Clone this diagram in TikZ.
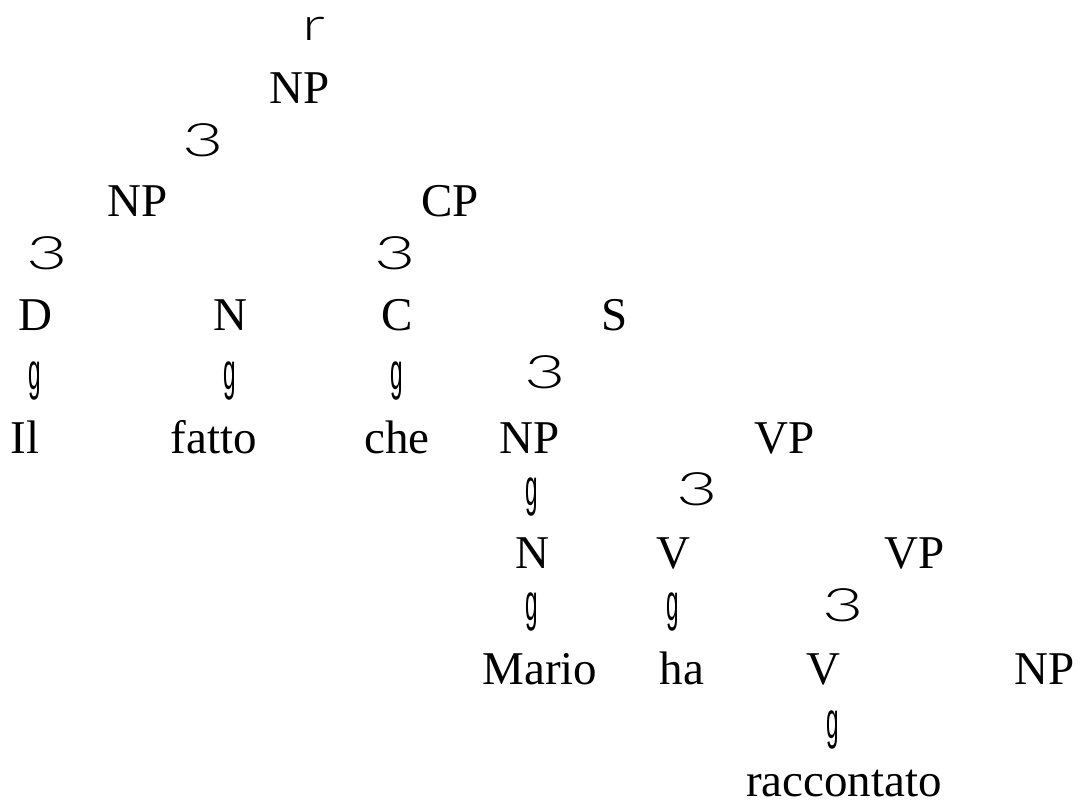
\documentclass[tikz,border=0pt]{standalone}
\usepackage{fontspec}
\setmainfont{Liberation Serif}
\IfFontExistsTF{Lato Light}
  {\newfontfamily\brfont{Lato Light}}
  {\newfontfamily\brfont{Fira Sans Light}}
\newfontfamily\gfont{Liberation Sans}
\begin{document}
\begin{tikzpicture}[x=1pt,y=-1pt,
  lab/.style={inner sep=0pt,anchor=base,font=\fontsize{47}{52}\selectfont},
  br/.style={inner sep=0pt,anchor=center,font=\brfont\fontsize{46}{50}\selectfont},
  un/.style={inner sep=0pt,anchor=center,font=\gfont\fontsize{45}{50}\selectfont}]
\useasboundingbox (0,0) rectangle (1087,808);
\newcommand{\tri}{\scalebox{1.55}[1.0]{3}}
\newcommand{\uni}{\scalebox{0.5}[1.15]{g}}
\newcommand{\rt}{\scalebox{1.4}[1]{r}}
\node[br] (r) at (314,29) {\rt};
\node[lab] (np0) at (300,103) {NP};
\node[br] (b1) at (203,140) {\tri};
\node[lab] (np1) at (138,216) {NP};
\node[lab] (cp) at (450,216) {CP};
\node[br] (b2) at (47,253) {\tri};
\node[br] (b3) at (395,253) {\tri};
\node[lab] (d) at (35,330) {D};
\node[lab] (n1) at (230,330) {N};
\node[lab] (c) at (397,330) {C};
\node[lab] (s) at (615,330) {S};
\node[un] (g1) at (35,381) {\uni};
\node[un] (g2) at (230,381) {\uni};
\node[un] (g3) at (397,381) {\uni};
\node[br] (b4) at (545,372) {\tri};
\node[lab] (il) at (25,453) {Il};
\node[lab] (fatto) at (214,453) {fatto};
\node[lab] (che) at (397,453) {che};
\node[lab] (np2) at (530,453) {NP};
\node[lab] (vp1) at (785,453) {VP};
\node[un] (g4) at (532,497) {\uni};
\node[br] (b5) at (697,489) {\tri};
\node[lab] (n2) at (532,568) {N};
\node[lab] (v1) at (673,568) {V};
\node[lab] (vp2) at (915,568) {VP};
\node[un] (g5) at (532,612) {\uni};
\node[un] (g6) at (673,612) {\uni};
\node[br] (b6) at (843,605) {\tri};
\node[lab] (mario) at (540,684) {Mario};
\node[lab] (ha) at (682,684) {ha};
\node[lab] (v2) at (823,684) {V};
\node[lab] (np3) at (1045,684) {NP};
\node[un] (g7) at (833,730) {\uni};
\node[lab] (racc) at (844,796) {raccontato};
\end{tikzpicture}
\end{document}
